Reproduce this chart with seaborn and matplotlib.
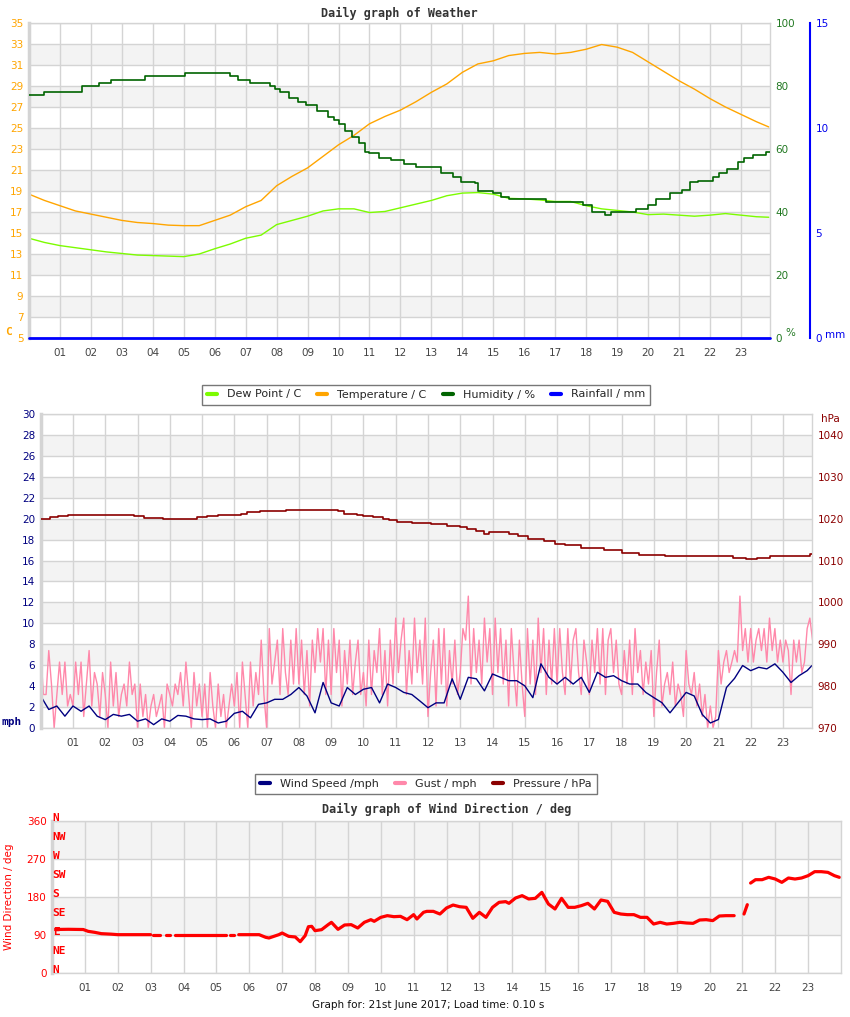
import numpy as np
import pandas as pd
import matplotlib
matplotlib.use("Agg")
import matplotlib.pyplot as plt
import seaborn as sns
from matplotlib.lines import Line2D

# ---------------- weather (top chart) ----------------
temp_hours = list(np.arange(0, 24, 0.5)) + [23.9]
temperature = [18.7, 18.1, 17.6, 17.1, 16.8, 16.5, 16.2, 16.0, 15.9, 15.75,
               15.7, 15.7, 16.2, 16.7, 17.5, 18.1, 19.5, 20.4, 21.2, 22.3,
               23.4, 24.3, 25.4, 26.1, 26.7, 27.5, 28.4, 29.2, 30.3, 31.1,
               31.4, 31.9, 32.1, 32.2, 32.05, 32.2, 32.5, 32.95, 32.7, 32.2,
               31.3, 30.4, 29.5, 28.7, 27.8, 27.0, 26.3, 25.6, 25.1]
dew_point = [14.5, 14.1, 13.8, 13.6, 13.4, 13.2, 13.05, 12.9, 12.85, 12.8,
             12.75, 13.0, 13.5, 13.95, 14.5, 14.8, 15.8, 16.2, 16.6, 17.1,
             17.3, 17.3, 16.95, 17.05, 17.4, 17.75, 18.1, 18.55, 18.8, 18.85,
             18.7, 18.3, 18.25, 18.15, 18.0, 18.0, 17.6, 17.3, 17.15, 17.0,
             16.75, 16.8, 16.7, 16.6, 16.7, 16.85, 16.7, 16.55, 16.5]

hum_hours = [0, 0.5, 1.7, 2.25, 2.65, 3.75, 5.05, 6.5, 6.75, 7.15,
             7.8, 7.95, 8.1, 8.4, 8.7, 8.95, 9.3, 9.65, 9.85, 10.0,
             10.2, 10.45, 10.65, 10.85, 11.0, 11.3, 11.7, 12.1, 12.5, 13.3,
             13.7, 13.95, 14.4, 14.5, 15.0, 15.25, 15.5, 16.7, 17.9, 18.2,
             18.6, 18.8, 19.6, 20.0, 20.25, 20.7, 21.1, 21.35, 21.6, 22.1,
             22.3, 22.55, 22.9, 23.1, 23.4, 23.8, 23.95]
humidity = [77.0, 78.1, 79.9, 80.8, 81.8, 83.1, 84.1, 83.1, 81.8, 80.8,
            79.9, 79.0, 78.0, 76.1, 74.9, 73.9, 72.1, 70.0, 69.2, 67.9,
            65.7, 63.9, 61.8, 59.1, 58.6, 57.0, 56.5, 55.1, 54.2, 52.3,
            51.2, 49.6, 49.1, 46.8, 45.9, 44.9, 44.0, 43.2, 42.2, 40.0,
            39.0, 40.0, 40.8, 42.2, 44.0, 46.1, 47.0, 49.4, 49.9, 51.0,
            52.3, 53.5, 56.0, 57.0, 58.1, 59.0, 59.0]

rain_hours = [0, 23.95]
rainfall = [0.0, 0.0]

# ---------------- wind & pressure (middle chart) ----------------
wind_hours = list(np.arange(0, 24, 0.25)) + [23.9]
wind_speed = [3.06, 1.77, 2.1, 1.13, 2.1, 1.6, 2.1, 1.13, 0.8, 1.3, 1.13, 1.3,
              0.65, 0.87, 0.32, 0.87, 0.65, 1.2, 1.13, 0.87, 0.8, 0.87, 0.48, 0.65,
              1.4, 1.6, 0.97, 2.26, 2.4, 2.74, 2.74, 3.2, 3.87, 3.06, 1.45, 4.35,
              2.4, 2.1, 3.87, 3.2, 3.7, 3.87, 2.4, 4.2, 3.87, 3.4, 3.2, 2.58,
              1.94, 2.4, 2.4, 4.7, 2.74, 4.84, 4.7, 3.55, 5.16, 4.84, 4.52, 4.52,
              4.03, 2.9, 6.13, 4.84, 4.2, 4.84, 4.2, 4.84, 3.4, 5.32, 4.84, 5.0,
              4.52, 4.2, 4.2, 3.4, 2.9, 2.42, 1.45, 2.42, 3.4, 3.06, 1.29, 0.48,
              0.81, 3.87, 4.74, 5.97, 5.48, 5.8, 5.65, 6.13, 5.32, 4.35, 5.0, 5.48,
              5.97]

# gust readings, 12 per hour
gust_hours = list(np.arange(288) / 12)
gust = [7.4, 3.2, 3.2, 7.4, 4.2, 0.0, 3.2, 6.3, 3.2, 6.3, 2.1, 3.2,
        2.1, 6.3, 3.2, 6.3, 1.1, 4.2, 7.4, 2.1, 5.3, 4.2, 1.1, 5.3,
        3.2, 0.0, 6.3, 2.1, 5.3, 1.1, 3.2, 4.2, 2.1, 6.3, 3.2, 4.2,
        0.0, 4.2, 1.1, 3.2, 0.0, 2.1, 3.2, 1.1, 2.1, 3.2, 0.0, 4.2,
        3.2, 2.1, 4.2, 3.2, 5.3, 2.1, 6.3, 3.2, 0.0, 5.3, 2.1, 4.2,
        1.1, 4.2, 0.0, 5.3, 2.1, 0.0, 4.2, 1.1, 3.2, 0.0, 2.1, 4.2,
        2.1, 5.3, 0.0, 6.3, 3.2, 0.0, 6.3, 2.1, 5.3, 3.2, 8.4, 3.2,
        0.0, 9.5, 4.2, 6.3, 8.4, 3.2, 9.5, 5.3, 3.2, 8.4, 4.2, 9.5,
        4.2, 8.4, 3.2, 7.4, 2.1, 8.4, 5.3, 9.5, 6.3, 9.5, 3.2, 8.4,
        3.2, 9.5, 5.3, 8.4, 2.1, 7.4, 4.2, 8.4, 3.2, 6.3, 8.4, 3.2,
        5.3, 2.1, 8.4, 3.2, 7.4, 5.3, 9.5, 3.2, 7.4, 2.1, 8.4, 4.2,
        10.5, 5.3, 8.4, 10.5, 3.2, 7.4, 4.2, 10.5, 5.3, 8.4, 4.2, 10.5,
        1.1, 5.3, 8.4, 2.1, 9.5, 4.2, 9.5, 2.1, 7.4, 4.2, 8.4, 3.2,
        5.3, 9.5, 8.4, 12.6, 4.2, 9.5, 5.3, 8.4, 4.2, 10.5, 6.3, 9.5,
        3.2, 10.5, 5.3, 9.5, 4.2, 8.4, 2.1, 9.5, 5.3, 2.1, 8.4, 4.2,
        1.1, 9.5, 4.2, 8.4, 3.2, 10.5, 5.3, 9.5, 3.2, 8.4, 4.2, 9.5,
        4.2, 9.5, 5.3, 3.2, 9.5, 4.2, 8.4, 9.5, 5.3, 3.2, 8.4, 6.3,
        3.2, 8.4, 5.3, 9.5, 4.2, 9.5, 3.2, 8.4, 9.5, 5.3, 8.4, 4.2,
        3.2, 7.4, 4.2, 8.4, 3.2, 9.5, 5.3, 7.4, 3.2, 6.3, 4.2, 7.4,
        1.1, 5.3, 8.4, 2.1, 4.2, 5.3, 3.2, 6.3, 2.1, 4.2, 3.2, 1.1,
        7.4, 4.2, 3.2, 5.3, 2.1, 4.2, 1.1, 3.2, 0.0, 2.1, 0.0, 1.1,
        7.4, 4.2, 6.3, 7.4, 5.3, 6.3, 7.4, 6.3, 12.6, 7.4, 9.5, 6.3,
        9.5, 6.3, 8.4, 9.5, 7.4, 9.5, 6.3, 10.5, 7.4, 9.5, 6.3, 8.4,
        6.3, 8.4, 7.4, 3.2, 8.4, 6.3, 8.4, 5.3, 6.3, 9.5, 10.5, 8.4]

pres_hours = [0, 0.3, 0.55, 0.85, 2.9, 3.2, 3.8, 4.85, 5.15, 5.5,
              6.2, 6.4, 6.8, 7.6, 9.2, 9.4, 9.8, 10.0, 10.3, 10.6,
              10.8, 11.05, 11.5, 12.1, 12.6, 13.0, 13.2, 13.5, 13.75, 13.9,
              14.5, 14.8, 15.1, 15.6, 15.95, 16.25, 16.75, 17.45, 18.0, 18.55,
              19.35, 21.45, 21.85, 22.2, 22.6, 23.85, 23.95]
pressure = [1020.0, 1020.4, 1020.7, 1020.95, 1020.6, 1020.2, 1020.0, 1020.4, 1020.7, 1020.95,
            1021.2, 1021.7, 1021.9, 1022.1, 1021.8, 1021.2, 1020.95, 1020.55, 1020.3, 1020.0,
            1019.6, 1019.3, 1019.0, 1018.65, 1018.25, 1018.0, 1017.6, 1017.1, 1016.4, 1016.8,
            1016.3, 1015.8, 1015.2, 1014.6, 1014.0, 1013.6, 1013.1, 1012.5, 1011.8, 1011.35,
            1011.0, 1010.7, 1010.3, 1010.6, 1011.0, 1011.5, 1011.5]

# ---------------- wind direction (bottom chart), nan = no reading ----------------
wd_hours = [0.0, 0.5, 0.95, 1.1, 1.3, 1.5, 1.8, 2.0, 3.0, 3.04, 3.08, 3.3, 3.4, 3.48, 3.6, 3.68,
            3.75, 5.3, 5.36, 5.42, 5.55, 5.62, 5.68, 6.3, 6.5, 6.6, 6.9, 7.0, 7.2, 7.4,
            7.55, 7.7, 7.8, 7.9, 8.0, 8.2, 8.4, 8.5, 8.7, 8.9, 9.1, 9.3, 9.5, 9.7, 9.8,
            10.0, 10.2, 10.4, 10.6, 10.8, 11.0, 11.1, 11.3, 11.4, 11.6, 11.8, 12.0, 12.2,
            12.4, 12.6, 12.8, 13.0, 13.2, 13.4, 13.6, 13.8, 13.9, 14.1, 14.3, 14.5, 14.7,
            14.9, 15.1, 15.3, 15.5, 15.7, 15.9, 16.1, 16.3, 16.5, 16.7, 16.9, 17.1, 17.3,
            17.5, 17.7, 17.9, 18.1, 18.3, 18.5, 18.7, 18.9, 19.1, 19.3, 19.5, 19.7, 19.9,
            20.1, 20.3, 20.5, 20.75, 20.9, 21.05, 21.15, 21.2, 21.25, 21.4, 21.6, 21.8,
            22.0, 22.2, 22.4, 22.6, 22.8, 23.0, 23.2, 23.4, 23.6, 23.8, 23.95]
wd_deg = [103, 103.5, 103, 98.7, 96.3, 93.2, 92.0, 90.8, 90.8, np.nan, 90.8, 90.8, np.nan, 90.8, 90.8, np.nan,
          90.8, 90.8, np.nan, 90.8, 90.8, np.nan, 90.8, 90.8, 84.5, 82.9, 90.8, 94.7, 86.8, 85.3,
          74.2, 88.4, 109.7, 110.5, 100.3, 102.6, 114.5, 120.0, 103.4, 113.7, 114.5, 106.6, 120.0, 126.3, 122.4,
          131.8, 135.8, 133.4, 134.2, 126.3, 138.2, 127.9, 143.7, 146, 146, 139.7, 154, 161,
          157, 155.5, 129.5, 143.7, 131.8, 155.5, 167.4, 169, 165, 177.6, 183.2, 175.3, 176.8,
          191, 163.4, 151.6, 176.8, 155.5, 155.5, 159.5, 165, 151.6, 172.9, 169.7, 143.7, 139.7,
          138.2, 138.2, 131.8, 131.8, 116, 120, 116, 117.6, 120, 118.4, 117.6, 125.5, 126.3,
          124, 135, 135.8, 135.8, np.nan, 139.7, 161.8, np.nan, 213, 221, 221, 226.6,
          222.6, 214.7, 225, 222.6, 225, 230.5, 240, 240, 238.4, 230.5, 226.6]

compass = ['N', 'NE', 'E', 'SE', 'S', 'SW', 'W', 'NW', 'N']
compass_deg = [0, 45, 90, 135, 180, 225, 270, 315, 360]

# ---------------- style ----------------
sns.set_theme(style="white")
plt.rcParams['font.family'] = ['DejaVu Sans']

GRID = '#d4d4d4'
BAND = '#f3f3f3'
TICK = '#444444'
TITLE_FONT = dict(family='DejaVu Sans Mono', weight='bold', size=8.5, color='#333333')
W, H = 850, 1017

fig = plt.figure(figsize=(8.5, 10.17), dpi=100)


def px_axes(left, top, right, bottom):
    return fig.add_axes([left / W, 1 - bottom / H, (right - left) / W, (bottom - top) / H])


def style_base(ax, ymin, ymax, step, band_starts, band_h, xmax, ycolor):
    ax.set_xlim(0, xmax)
    ax.set_ylim(ymin, ymax)
    for b in band_starts:
        ax.axhspan(b, b + band_h, color=BAND, zorder=0, lw=0)
    ax.set_xticks(range(1, 24))
    ax.set_xticklabels([f'{h:02d}' for h in range(1, 24)])
    ax.set_yticks(np.arange(ymin, ymax + 0.01, step))
    ax.grid(True, color=GRID, lw=1)
    ax.set_axisbelow(True)
    ax.tick_params(length=0, labelsize=7.5)
    ax.tick_params(axis='x', colors=TICK, pad=7)
    ax.tick_params(axis='y', colors=ycolor, pad=4)
    for s in ax.spines.values():
        s.set_color(GRID)
        s.set_linewidth(1)
    ax.spines['left'].set_linewidth(2.5)
    ax.set_xlabel('')
    ax.set_ylabel('')


def twin(ax, ymin, ymax, ticks, color):
    t = ax.twinx()
    t.set_ylim(ymin, ymax)
    t.set_yticks(ticks)
    t.tick_params(length=0, labelsize=7.5, colors=color, pad=4)
    for s in t.spines.values():
        s.set_visible(False)
    return t


def line(ax, x, y, color, lw=1.0, **kw):
    df = pd.DataFrame({'x': x, 'y': y})
    sns.lineplot(data=df, x='x', y='y', ax=ax, color=color, lw=lw, estimator=None, **kw)
    ax.set_xlabel('')
    ax.set_ylabel('')


def legend(handles, labels, cy, ncol):
    leg = fig.legend(handles, labels, loc='center', bbox_to_anchor=(426 / W, 1 - cy / H),
                     ncol=ncol, frameon=True, fancybox=False, edgecolor='#777777',
                     fontsize=8, handlelength=0.9, handletextpad=0.9, columnspacing=1.45,
                     borderpad=0.45, framealpha=1)
    leg.get_frame().set_linewidth(1)
    return leg


# ---------------- top chart ----------------
ax_t = px_axes(29, 23, 770, 338)
style_base(ax_t, 5, 35, 2, [7, 11, 15, 19, 23, 27, 31], 2, 23.94, '#FFA500')
ax_t.set_title('Daily graph of Weather', pad=4.5, **TITLE_FONT)

ax_h = twin(ax_t, 0, 100, [0, 20, 40, 60, 80, 100], '#217821')
ax_r = twin(ax_t, 0, 15, [0, 5, 10, 15], '#0000ee')
ax_r.spines['right'].set_visible(True)
ax_r.spines['right'].set_position(('axes', (810 - 29) / 741))
ax_r.spines['right'].set_color('#0000ff')
ax_r.spines['right'].set_linewidth(1.5)

line(ax_t, temp_hours, temperature, '#FFA500', 1.0)
line(ax_t, temp_hours, dew_point, '#7CFC00', 1.0)
line(ax_h, hum_hours, humidity, '#006400', 1.2, drawstyle='steps-post')
line(ax_r, rain_hours, rainfall, '#0000ff', 2.0, clip_on=False)

fig.text(5 / W, 1 - 332 / H, 'C', color='#FFA500', fontsize=8, weight='bold',
         family='DejaVu Sans Mono', va='center')
fig.text(785 / W, 1 - 333 / H, '%', color='#217821', fontsize=7.5, va='center')
fig.text(825 / W, 1 - 335 / H, 'mm', color='#0000ee', fontsize=7.5, va='center')

legend([Line2D([], [], color=c, lw=3) for c in ['#7CFC00', '#FFA500', '#006400', '#0000ff']],
       ['Dew Point / C', 'Temperature / C', 'Humidity / %', 'Rainfall / mm'], 394.5, 4)

# ---------------- middle chart ----------------
ax_m = px_axes(40.7, 414, 812, 728)
style_base(ax_m, 0, 30, 2, [2, 6, 10, 14, 18, 22, 26], 2, 23.9, '#000080')
ax_p = twin(ax_m, 970, 1045, [970, 980, 990, 1000, 1010, 1020, 1030, 1040], '#8B0000')

line(ax_m, gust_hours, gust, '#ff88aa', 1.0)
line(ax_m, wind_hours, wind_speed, '#000080', 1.0)
line(ax_p, pres_hours, pressure, '#8B0000', 1.2, drawstyle='steps-post')

fig.text(2 / W, 1 - 722 / H, 'mph', color='#000080', fontsize=8, weight='bold',
         family='DejaVu Sans Mono', va='center')
fig.text(821 / W, 1 - 419 / H, 'hPa', color='#8B0000', fontsize=7.5, va='center')

legend([Line2D([], [], color=c, lw=3) for c in ['#000080', '#ff88aa', '#8B0000']],
       ['Wind Speed /mph', 'Gust / mph', 'Pressure / hPa'], 784, 3)

# ---------------- bottom chart ----------------
ax_w = px_axes(52, 821, 841, 973)
style_base(ax_w, 0, 360, 90, [90, 270], 90, 24, '#ff0000')
ax_w.set_title('Daily graph of Wind Direction / deg', pad=5.5, **TITLE_FONT)

wd = pd.DataFrame({'hour': wd_hours, 'deg': wd_deg})
seg_id = wd['deg'].isna().cumsum()
valid = wd['deg'].notna()
for _, seg in wd[valid].groupby(seg_id[valid]):
    line(ax_w, seg['hour'].tolist(), seg['deg'].tolist(), '#ff0000', 2.3)

for lab, d in zip(compass, compass_deg):
    ax_w.text(0.02, d + 6, lab, color='#ff0000', fontsize=8, weight='bold',
              family='DejaVu Sans Mono', va='center', ha='left', clip_on=False)

fig.text(9 / W, 1 - 897 / H, 'Wind Direction / deg', color='#ff0000', fontsize=7.5,
         rotation=90, va='center', ha='center')
fig.text(428 / W, 1 - 1005 / H, 'Graph for: 21st June 2017; Load time: 0.10 s',
         color='#111111', fontsize=7.5, ha='center', va='center')

fig.savefig('out.png', dpi=100)
